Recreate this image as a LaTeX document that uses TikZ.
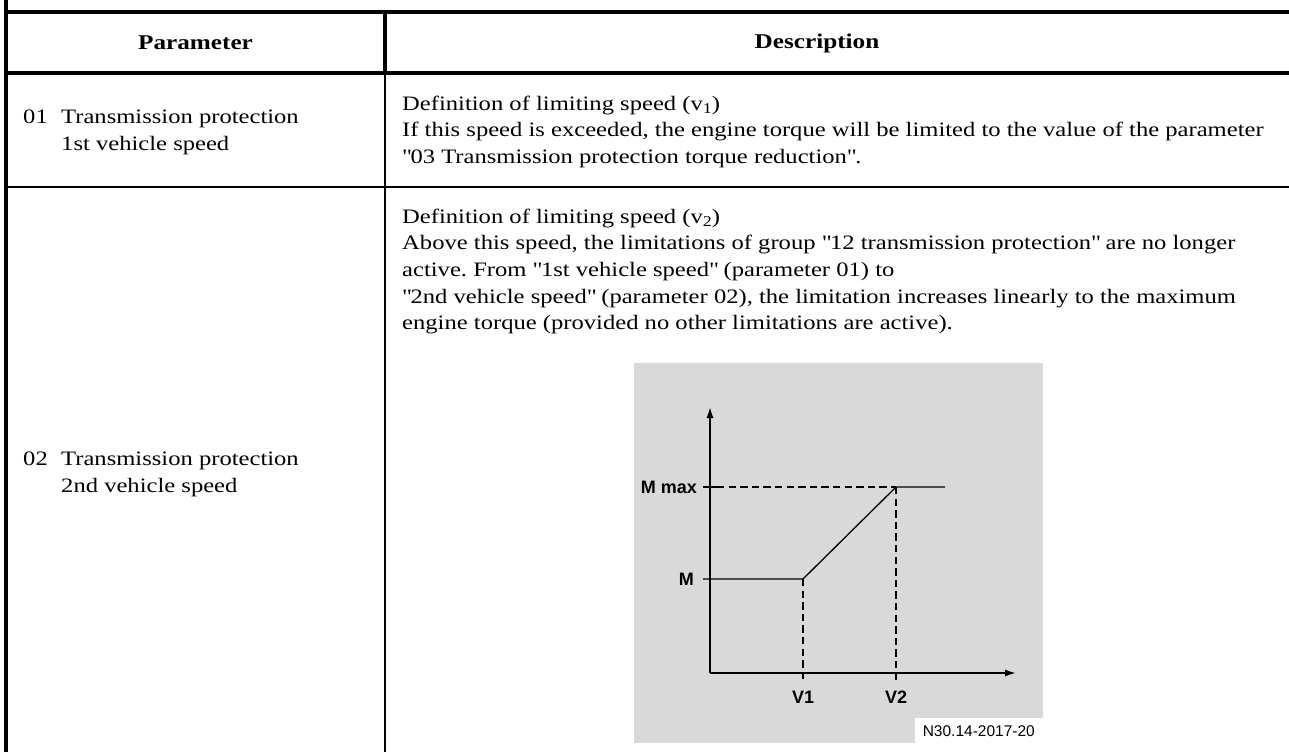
\documentclass[tikz,border=0pt]{standalone}
\usepackage{fontspec}
\setmainfont{Liberation Serif}[FakeStretch=1.2]
\setsansfont{Liberation Sans}
\usetikzlibrary{arrows.meta}
\definecolor{figgray}{RGB}{217,217,217}
\newcommand{\bodyfont}{\fontsize{20.5}{26.7}\selectfont\frenchspacing}
\newcommand{\dq}{\textquotedbl}
\newcommand{\lowsub}[1]{\raisebox{-0.35ex}{\fontsize{15}{15}\selectfont #1}}
\tikzset{
  thickrule/.style={line width=3.2pt},
  thinrule/.style={line width=1.6pt},
  txt/.style={anchor=base west, inner sep=0pt, font=\bodyfont},
  hdr/.style={inner sep=0pt, font=\fontsize{21}{26.7}\selectfont\bfseries},
  axisline/.style={line width=2.6pt, -{Latex[length=12pt,width=7pt]}},
  curveline/.style={line width=1.3pt},
  guide/.style={line width=1.2pt, dash pattern=on 7.3pt off 4.3pt},
  lbl/.style={inner sep=0pt, font=\sffamily\bfseries\fontsize{18}{20}\selectfont},
  reflbl/.style={inner sep=0pt, fill=white, minimum width=128pt, minimum height=25pt,
    font=\sffamily\fontsize{15.5}{17}\selectfont}
}
\begin{document}
\begin{tikzpicture}[x=1pt,y=-1pt]
\useasboundingbox (0,0) rectangle (1289,752);
% table rules
\coordinate (tl) at (6,12);
\coordinate (tr) at (1289,12);
\coordinate (hl) at (6,73);
\coordinate (hr) at (1289,73);
\coordinate (ltop) at (6,0);
\coordinate (lbot) at (6,752);
\coordinate (ctop) at (385,12);
\coordinate (cmid) at (385,73);
\coordinate (cbot) at (385,752);
\coordinate (rl) at (6,187);
\coordinate (rr) at (1289,187);
\draw[thickrule] (ltop) -- (lbot);
\draw[thickrule] (tl) -- (tr);
\draw[thickrule] (hl) -- (hr);
\draw[thickrule] (ctop) -- (cmid);
\draw[thinrule] (cmid) -- (cbot);
\draw[thinrule] (rl) -- (rr);
% header
\node[hdr] (hpar) at (195.5,43) {Parameter};
\node[hdr] (hdesc) at (817,43) {Description};
% row 1
\node[txt] (p1n) at (23,123) {01};
\node[txt] (p1a) at (61,123) {Transmission protection};
\node[txt] (p1b) at (61,150) {1st vehicle speed};
\node[txt] (d1a) at (402,110) {Definition of limiting speed (v\lowsub{1})};
\node[txt] (d1b) at (402,136.7) {If this speed is exceeded, the engine torque will be limited to the value of the parameter};
\node[txt] (d1c) at (402,163.4) {\dq 03 Transmission protection torque reduction\dq.};
% row 2
\node[txt] (p2n) at (23,465) {02};
\node[txt] (p2a) at (61,465) {Transmission protection};
\node[txt] (p2b) at (61,492) {2nd vehicle speed};
\node[txt] (d2a) at (402,223) {Definition of limiting speed (v\lowsub{2})};
\node[txt] (d2b) at (402,249.7) {Above this speed, the limitations of group \dq 12 transmission protection\dq{} are no longer};
\node[txt] (d2c) at (402,276.4) {active. From \dq 1st vehicle speed\dq{} (parameter 01) to};
\node[txt] (d2d) at (402,303.1) {\dq 2nd vehicle speed\dq{} (parameter 02), the limitation increases linearly to the maximum};
\node[txt] (d2e) at (402,329.8) {engine torque (provided no other limitations are active).};
% figure
\fill[figgray] (634,363) rectangle (1043,743);
\node[reflbl, anchor=south east] (ref) at (1043,743.5) {N30.14-2017-20};
\coordinate (O) at (710,673);
\coordinate (ytip) at (710,406);
\coordinate (xtip) at (1017,673);
\coordinate (mT) at (703,579);
\coordinate (mmT) at (703,487);
\coordinate (mmA) at (717,487);
\coordinate (v1) at (803,579);
\coordinate (v2) at (896,487);
\coordinate (vend) at (945,487);
\coordinate (v1b) at (803,682);
\coordinate (v2b) at (896,682);
\draw[guide] (mmA) -- (v2);
\draw[guide] (v1) -- (v1b);
\draw[guide] (v2) -- (v2b);
\draw[curveline] (mmT) -- (mmA);
\draw[curveline] (mT) -- (v1) -- (v2) -- (vend);
\draw[axisline] (O) -- (ytip);
\draw[axisline] (O) -- (xtip);
\node[lbl, anchor=base east] (lmmax) at (697,493.5) {M max};
\node[lbl, anchor=base east] (lm) at (694,585.5) {M};
\node[lbl, anchor=base] (lv1) at (803,703.5) {V1};
\node[lbl, anchor=base] (lv2) at (896,703.5) {V2};
\end{tikzpicture}
\end{document}
